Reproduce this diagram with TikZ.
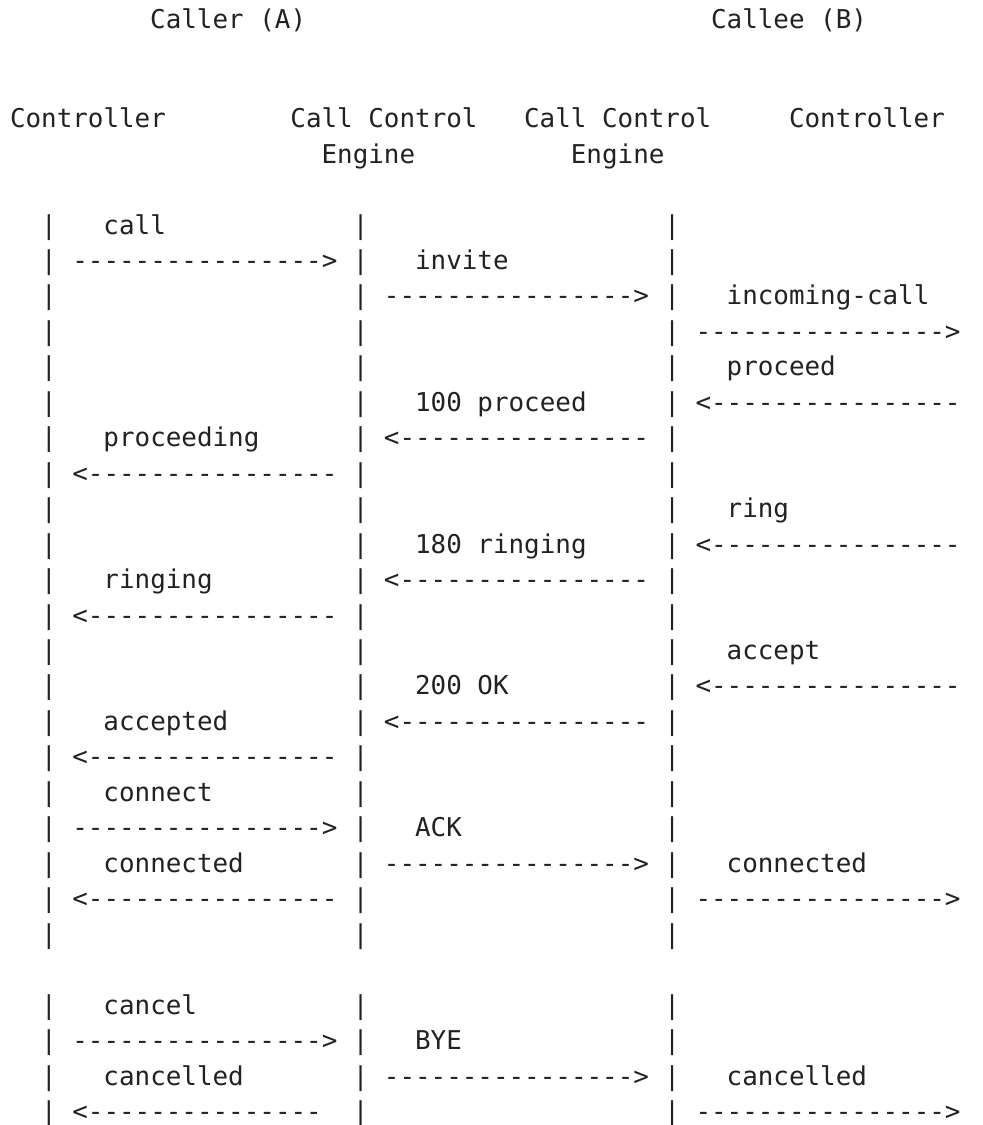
\documentclass[tikz,border=0pt]{standalone}
\usepackage{fontspec}
\setmonofont{DejaVu Sans Mono}
\definecolor{ink}{HTML}{222222}
\newcommand\mfont{\ttfamily\fontsize{25.9pt}{30pt}\selectfont}
\tikzset{t/.style={inner sep=0pt, outer sep=0pt, anchor=base west, font=\mfont, text=ink}}
% column / row to position (1px = 1pt)
\newcommand\T[4]{\node[t] (#1) at ({10+(#2)*15.58pt},{-(234+(#3-7)*35.46)*1pt}) {#4};}
\begin{document}
\begin{tikzpicture}[x=1pt,y=1pt]
\useasboundingbox[fill=white] (0,0) rectangle (983,-1125);
% header
\node[t] (callerA) at ({10+9*15.58},-28.5) {Caller (A)};
\node[t] (calleeB) at ({10+45*15.58},-28.5) {Callee (B)};
\T{ctrlA}{0}{4}{Controller}
\T{cceA}{18}{4}{Call Control}
\T{cceB}{33}{4}{Call Control}
\T{ctrlB}{50}{4}{Controller}
\T{engA}{20}{5}{Engine}
\T{engB}{36}{5}{Engine}
% lifelines
\foreach \r in {7,...,27,29,30,31,32}
  \foreach \c/\n in {2/a,22/b,42/c}
    \node[t] (p\n\r) at ({10+\c*15.58},{-(234+(\r-7)*35.46)}) {|};
% messages
\T{l7}{6}{7}{call}
\T{a8}{4}{8}{---------------->}
\T{l8}{26}{8}{invite}
\T{a9}{24}{9}{---------------->}
\T{l9}{46}{9}{incoming-call}
\T{a10}{44}{10}{---------------->}
\T{l11}{46}{11}{proceed}
\T{l12}{26}{12}{100 proceed}
\T{a12}{44}{12}{<----------------}
\T{l13}{6}{13}{proceeding}
\T{a13}{24}{13}{<----------------}
\T{a14}{4}{14}{<----------------}
\T{l15}{46}{15}{ring}
\T{l16}{26}{16}{180 ringing}
\T{a16}{44}{16}{<----------------}
\T{l17}{6}{17}{ringing}
\T{a17}{24}{17}{<----------------}
\T{a18}{4}{18}{<----------------}
\T{l19}{46}{19}{accept}
\T{l20}{26}{20}{200 OK}
\T{a20}{44}{20}{<----------------}
\T{l21}{6}{21}{accepted}
\T{a21}{24}{21}{<----------------}
\T{a22}{4}{22}{<----------------}
\T{l23}{6}{23}{connect}
\T{a24}{4}{24}{---------------->}
\T{l24}{26}{24}{ACK}
\T{l25}{6}{25}{connected}
\T{a25}{24}{25}{---------------->}
\T{m25}{46}{25}{connected}
\T{a26}{4}{26}{<----------------}
\T{b26}{44}{26}{---------------->}
\T{l29}{6}{29}{cancel}
\T{a30}{4}{30}{---------------->}
\T{l30}{26}{30}{BYE}
\T{l31}{6}{31}{cancelled}
\T{a31}{24}{31}{---------------->}
\T{m31}{46}{31}{cancelled}
\T{a32}{4}{32}{<---------------}
\T{b32}{44}{32}{---------------->}
\end{tikzpicture}
\end{document}
